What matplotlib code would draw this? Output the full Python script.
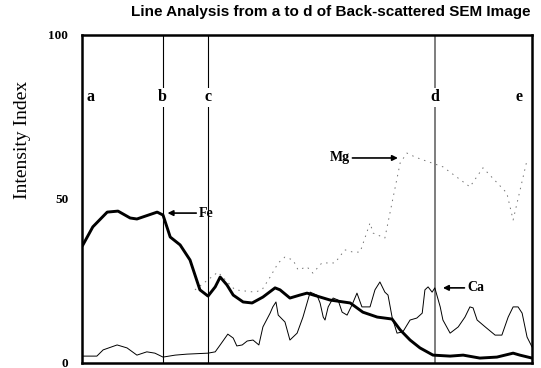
import numpy as np
import matplotlib
matplotlib.use('Agg')
import matplotlib.pyplot as plt

# positions along the scan line (0 = a side, 100 = e side) and intensities
fe_x = [0.2, 2.4, 5.6, 8.0, 10.7, 12.2, 16.7, 18.0, 19.6, 21.8, 24.0, 26.2, 28.0, 29.6,
        30.7, 32.2, 33.6, 35.8, 37.8, 40.2, 42.9, 44.0, 46.2, 48.4, 50.0, 52.2, 55.1,
        59.6, 62.4, 65.6, 68.9, 70.7, 72.9, 75.1, 78.0, 81.8, 84.7, 88.4, 92.2, 95.8,
        97.3, 100.0]
fe_y = [36.0, 41.5, 46.0, 46.3, 44.2, 43.9, 46.0, 45.1, 38.4, 36.0, 31.4, 22.3, 20.4, 23.2,
        26.2, 23.8, 20.7, 18.6, 18.3, 20.1, 22.9, 22.3, 19.8, 20.7, 21.3, 20.4, 19.2,
        18.3, 15.5, 14.0, 13.4, 10.1, 7.0, 4.6, 2.4, 2.1, 2.4, 1.5, 1.8, 3.0,
        2.4, 1.5]

ca_x = [0.2, 3.3, 4.7, 7.8, 10.0, 12.2, 14.4, 16.2, 18.0, 20.7, 23.3, 28.0, 29.6, 30.7,
        32.4, 33.6, 34.4, 35.6, 36.7, 38.0, 39.3, 40.2, 41.8, 42.4, 43.1, 43.6, 45.1,
        46.2, 47.8, 49.1, 50.2, 50.7, 52.2, 52.9, 53.6, 54.0, 54.7, 55.8, 56.9, 57.8,
        58.9, 60.0, 61.1, 62.2, 64.0, 65.1, 66.2, 67.3, 68.0, 68.9, 70.0, 71.3, 72.9,
        74.4, 75.6, 76.2, 76.9, 77.8, 78.4, 79.6, 80.2, 81.8, 83.6, 85.1, 86.2, 86.9,
        87.8, 89.6, 91.8, 93.3, 94.7, 95.8, 96.9, 97.8, 98.9, 100.0]
ca_y = [2.1, 2.1, 4.0, 5.5, 4.6, 2.4, 3.4, 3.0, 1.8, 2.4, 2.7, 3.0, 3.4, 5.5,
        8.8, 7.6, 5.2, 5.5, 6.7, 7.0, 5.5, 11.0, 15.2, 17.1, 18.6, 14.6, 12.5,
        7.0, 9.1, 14.0, 19.2, 21.6, 20.7, 18.3, 14.0, 13.1, 17.1, 19.8, 19.2, 15.5,
        14.6, 17.7, 21.3, 17.1, 17.1, 22.3, 24.7, 21.6, 20.7, 14.0, 9.1, 9.5, 13.1,
        13.7, 15.2, 22.3, 23.2, 21.6, 22.9, 17.1, 13.1, 9.1, 11.0, 14.0, 17.1, 16.8,
        13.1, 11.0, 8.5, 8.5, 14.0, 17.1, 17.1, 15.2, 7.9, 4.9]

mg_x = [25.1, 30.2, 34.0, 38.4, 40.0, 41.8, 43.6, 45.1, 46.9, 48.0, 50.0, 51.3, 53.3,
        56.2, 58.4, 60.2, 61.8, 64.0, 64.7, 67.3, 70.7, 72.2, 74.0, 75.8, 80.2, 86.2,
        89.1, 94.4, 95.8, 98.9]
mg_y = [22.3, 27.7, 22.3, 21.6, 22.3, 26.2, 30.5, 32.3, 31.4, 28.4, 29.3, 27.4, 30.5,
        30.5, 34.5, 33.8, 33.8, 42.7, 39.6, 38.1, 61.0, 64.0, 62.8, 61.9, 59.8, 53.7,
        59.5, 51.8, 43.6, 61.9]

markers = ['a', 'b', 'c', 'd', 'e']
marker_x = [1.8, 17.9, 28.1, 78.5, 97.1]

serif = 'Liberation Serif'

fig = plt.figure(figsize=(5.41, 3.68), dpi=100)
ax = fig.add_axes([0.1516, 0.0136, 0.8318, 0.8914])

# boundary lines b, c (thin black) and d (grey)
ax.axvline(marker_x[1], color='black', lw=0.8, zorder=1)
ax.axvline(marker_x[2], color='black', lw=0.8, zorder=1)
ax.axvline(marker_x[3], color='0.45', lw=1.3, zorder=1)

ax.plot(mg_x, mg_y, color='0.45', lw=0.7, linestyle=(0, (1.5, 5)), zorder=2)
ax.plot(ca_x, ca_y, color='black', lw=0.7, zorder=3)
ax.plot(fe_x, fe_y, color='black', lw=2.1, zorder=4)

for lab, xv in zip(markers, marker_x):
    ax.text(xv, 81, lab, ha='center', va='center', fontsize=11.5, fontweight='bold',
            family=serif, zorder=5,
            bbox=dict(facecolor='white', edgecolor='none', pad=1.0))

arrow = dict(arrowstyle='-|>', color='black', lw=1.2, mutation_scale=8,
             shrinkA=0, shrinkB=0)
ax.annotate('Fe', xy=(19.0, 45.7), xytext=(26.0, 45.7), ha='left', va='center',
            fontsize=10, fontweight='bold', family=serif, arrowprops=arrow)
ax.annotate('Mg', xy=(70.2, 62.5), xytext=(55.0, 62.5), ha='left', va='center',
            fontsize=10, fontweight='bold', family=serif, arrowprops=arrow)
ax.annotate('Ca', xy=(80.2, 22.9), xytext=(85.6, 22.9), ha='left', va='center',
            fontsize=10, fontweight='bold', family=serif, arrowprops=arrow)

ax.set_xlim(0, 100)
ax.set_ylim(0, 100)
ax.set_xticks([])
ax.set_yticks([0, 50, 100])
ax.set_yticklabels(['0', '50', '100'], family=serif, fontsize=9.5, fontweight='bold')
ax.tick_params(axis='y', length=0, pad=10)
for side in ax.spines.values():
    side.set_linewidth(1.8)

fig.text(0.042, 0.62, 'Intensity Index', rotation=90, ha='center', va='center',
         family=serif, fontsize=14)
fig.text(0.612, 0.967, 'Line Analysis from a to d of Back-scattered SEM Image',
         ha='center', va='center', family='Liberation Sans', fontweight='bold',
         fontsize=11)

fig.savefig('out.png', dpi=100)
